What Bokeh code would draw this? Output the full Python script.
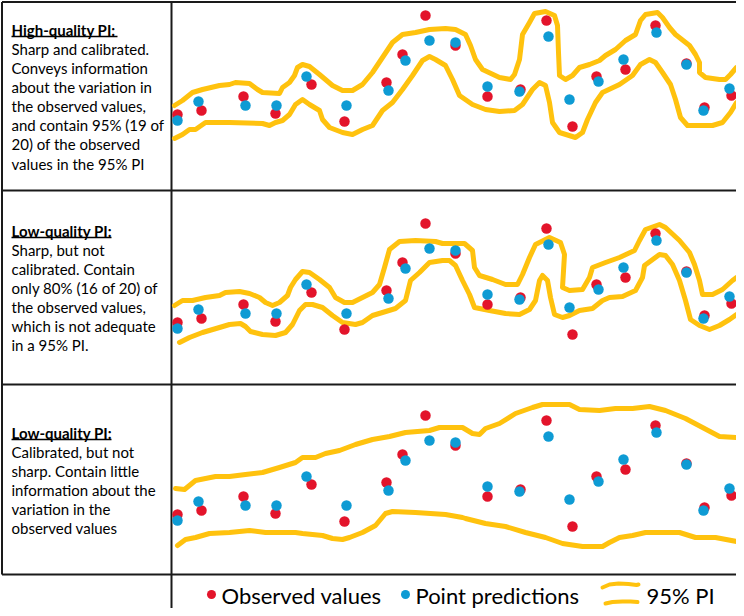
from bokeh.plotting import figure
from bokeh.models import Range1d
from bokeh.core.properties import value
from bokeh.embed import file_html
from bokeh.resources import INLINE

# ---------------- data (time index and values, same in every panel) ----------------
time_pred = [6, 27, 74, 105, 135, 175, 217, 234, 258, 284, 316, 348, 377, 398, 427, 452, 485, 515, 532, 558]
time_obs = [6, 30, 72, 104, 140, 173, 215, 231, 254, 284, 316, 349, 375, 401, 425, 454, 484, 515, 533, 560]
pred_values = [70, 89, 85, 85, 114, 85, 100, 130, 150, 148, 104, 99, 154, 91, 109, 131, 158, 126, 80, 102]
obs_values = [76, 80, 94, 77, 106, 69, 108, 136, 175, 145, 94, 101, 170, 64, 114, 121, 165, 127, 83, 95]

# Panel 1: high-quality PI
pi1_upper_t = [3, 11, 21, 31, 48, 58, 64, 78, 86, 91, 108, 111, 118, 123, 126, 131, 138, 148, 161, 171, 181, 191, 201, 211, 221, 231, 244, 258, 274, 284, 294, 299, 304, 311, 328, 339, 343, 348, 351, 358, 363, 374, 383, 386, 387, 388, 394, 401, 408, 418, 428, 434, 444, 454, 464, 469, 474, 486, 491, 498, 504, 518, 524, 528, 528, 534, 548, 554, 559, 565]
pi1_upper_v = [85, 90, 98, 101, 105, 106, 108, 107, 101, 98, 97, 103, 108, 115, 123, 126, 124, 116, 105, 100, 100, 106, 118, 133, 148, 156, 158, 161, 162, 161, 156, 145, 131, 121, 113, 111, 116, 131, 156, 168, 177, 179, 175, 165, 138, 115, 111, 115, 123, 126, 130, 135, 141, 150, 156, 170, 176, 178, 173, 163, 156, 145, 136, 128, 118, 113, 111, 111, 116, 123]
pi1_lower_t = [3, 11, 18, 24, 34, 58, 91, 98, 104, 111, 118, 124, 131, 138, 148, 151, 158, 171, 181, 191, 201, 211, 221, 231, 241, 251, 258, 264, 274, 281, 288, 301, 314, 328, 343, 351, 361, 368, 374, 378, 381, 388, 404, 411, 416, 424, 431, 448, 461, 469, 478, 484, 491, 499, 504, 509, 516, 541, 551, 559, 565]
pi1_lower_v = [52, 56, 61, 61, 68, 68, 67, 65, 68, 70, 76, 86, 91, 86, 80, 71, 63, 58, 56, 61, 65, 80, 88, 101, 115, 130, 134, 131, 125, 111, 95, 86, 81, 79, 80, 86, 101, 108, 105, 88, 68, 58, 53, 58, 71, 88, 98, 106, 115, 126, 131, 128, 118, 106, 91, 73, 65, 65, 68, 78, 88]

# Panel 2: sharp but not calibrated
pi2_upper_t = [3, 11, 21, 34, 48, 54, 68, 78, 88, 94, 101, 108, 116, 119, 124, 131, 138, 148, 158, 164, 173, 181, 191, 201, 208, 213, 218, 228, 244, 264, 271, 293, 301, 303, 308, 321, 334, 346, 351, 358, 364, 378, 389, 393, 391, 398, 411, 418, 421, 434, 448, 463, 468, 474, 488, 494, 508, 518, 523, 528, 531, 541, 551, 561, 565]
pi2_upper_v = [93, 98, 98, 101, 103, 106, 107, 105, 101, 96, 93, 96, 103, 111, 119, 127, 126, 119, 111, 101, 96, 96, 101, 106, 114, 131, 149, 157, 158, 157, 155, 155, 148, 131, 123, 119, 114, 114, 124, 141, 154, 161, 156, 144, 111, 108, 109, 121, 131, 136, 141, 148, 158, 169, 174, 171, 158, 146, 134, 118, 104, 104, 109, 118, 121]
pi2_lower_t = [8, 18, 31, 48, 58, 69, 74, 79, 91, 104, 114, 121, 128, 134, 141, 151, 161, 171, 184, 191, 201, 211, 224, 234, 239, 248, 258, 271, 278, 284, 291, 298, 303, 318, 334, 348, 358, 364, 368, 371, 376, 379, 383, 391, 398, 408, 421, 431, 438, 451, 464, 471, 473, 488, 494, 501, 508, 514, 519, 528, 538, 548, 558, 565]
pi2_lower_v = [56, 61, 66, 71, 74, 75, 72, 67, 64, 63, 66, 74, 88, 94, 94, 91, 83, 76, 74, 76, 83, 86, 90, 98, 118, 126, 136, 138, 138, 133, 118, 104, 91, 88, 85, 84, 89, 98, 118, 123, 118, 101, 84, 81, 83, 88, 90, 98, 101, 102, 108, 121, 133, 144, 143, 134, 118, 98, 79, 73, 69, 73, 79, 84]

# Panel 3: calibrated but not sharp
pi3_upper_t = [4, 13, 24, 44, 58, 74, 91, 108, 124, 131, 144, 154, 168, 184, 201, 218, 234, 258, 268, 291, 301, 308, 314, 328, 344, 361, 371, 398, 408, 428, 444, 461, 478, 494, 514, 531, 548, 565]
pi3_upper_v = [102, 101, 110, 114, 114, 116, 118, 123, 128, 133, 133, 137, 140, 146, 151, 154, 158, 160, 163, 163, 157, 156, 162, 167, 177, 183, 186, 186, 181, 180, 182, 182, 184, 180, 172, 163, 154, 153]
pi3_lower_t = [6, 14, 24, 38, 58, 78, 94, 124, 131, 151, 161, 171, 178, 191, 204, 214, 221, 244, 274, 291, 294, 314, 334, 354, 374, 391, 411, 431, 438, 448, 461, 474, 508, 524, 544, 565]
pi3_lower_v = [45, 51, 53, 57, 58, 60, 58, 58, 57, 55, 52, 51, 53, 58, 65, 77, 79, 78, 76, 73, 72, 67, 64, 58, 53, 47, 44, 44, 48, 53, 55, 58, 58, 53, 53, 49]

panel_pis = [
    (pi1_upper_t, pi1_upper_v, pi1_lower_t, pi1_lower_v),
    (pi2_upper_t, pi2_upper_v, pi2_lower_t, pi2_lower_v),
    (pi3_upper_t, pi3_upper_v, pi3_lower_t, pi3_lower_v),
]

panel_texts = [
    ("High-quality PI:", ["Sharp and calibrated.", "Conveys information", "about the variation in",
                          "the observed values,", "and contain 95% (19 of", "20) of the observed",
                          "values in the 95% PI"]),
    ("Low-quality PI:", ["Sharp, but not", "calibrated. Contain", "only 80% (16 of 20) of",
                         "the observed values,", "which is not adequate", "in a 95% PI."]),
    ("Low-quality PI:", ["Calibrated, but not", "sharp. Contain little", "information about the",
                         "variation in the", "observed values"]),
]

legend_labels = ["Observed values", "Point predictions", "95% PI"]

# ---------------- styling / layout ----------------
RED = "#E3142B"
BLUE = "#0E9BD4"
GOLD = "#FFC20E"
BORDER = "#1a1a1a"
FONT = "Lato"

W, H = 736, 608
# page layout (frame pixel coordinates, y downwards)
col_split = 171
row_edges = [1.5, 190, 384, 574]
panel_offsets = [190, 398, 590]   # frame y that corresponds to value 0 in each panel
header_y = [29, 230, 432]
underline_len = [106, 100, 100]
line_step = 19.15

p = figure(width=W, height=H, x_range=Range1d(0, W), y_range=Range1d(H, 0),
           min_border=0, toolbar_location=None, output_backend="svg",
           x_axis_type=None, y_axis_type=None)
p.outline_line_color = None
p.background_fill_color = "white"
p.border_fill_color = "white"

p.extra_x_ranges = {"t": Range1d(-col_split, W - col_split)}
for k, off in enumerate(panel_offsets):
    p.extra_y_ranges["r%d" % k] = Range1d(off - H, off)

# borders
p.segment(x0=[1.5, 1.5, col_split], y0=[1.5, 1.5, 1.5], x1=[W, 1.5, col_split], y1=[1.5, row_edges[3], H],
          line_color=BORDER, line_width=2)
p.segment(x0=[1.5] * 3, y0=row_edges[1:], x1=[W] * 3, y1=row_edges[1:], line_color=BORDER, line_width=2)

# panels
for k, (ut, uv, lt, lv) in enumerate(panel_pis):
    rn = "r%d" % k
    for tt, vv in ((ut, uv), (lt, lv)):
        p.line(tt, vv, x_range_name="t", y_range_name=rn, line_color=GOLD, line_width=5,
               line_cap="round", line_join="round")
    p.scatter(time_obs, obs_values, x_range_name="t", y_range_name=rn, size=10.5,
              fill_color=RED, line_color=None)
    p.scatter(time_pred, pred_values, x_range_name="t", y_range_name=rn, size=10.5,
              fill_color=BLUE, line_color=None)

# explanatory texts
tx = 11
for k, (head, lines) in enumerate(panel_texts):
    hy = header_y[k]
    p.text(x=[tx], y=[hy], text=[head], text_font=value(FONT), text_font_size="15px",
           text_font_style="bold", text_baseline="middle", text_color="black")
    p.segment(x0=[tx], y0=[hy + 7], x1=[tx + underline_len[k]], y1=[hy + 7], line_color="black",
              line_width=1.3)
    ys = [hy + line_step * (i + 1) for i in range(len(lines))]
    p.text(x=[tx] * len(lines), y=ys, text=lines, text_font=value(FONT), text_font_size="15px",
           text_baseline="middle", text_color="black")

# legend
ly = 595
p.scatter([211], [ly - 1], size=9, fill_color=RED, line_color=None)
p.scatter([405], [ly - 1], size=9, fill_color=BLUE, line_color=None)
p.line([602, 609, 618, 628, 636, 638], [587, 584, 583, 583.5, 584.5, 584], line_color=GOLD, line_width=4,
       line_cap="round")
p.line([605, 612, 622, 630, 637], [603, 601.5, 601, 601, 601.5], line_color=GOLD, line_width=4,
       line_cap="round")
p.text(x=[221, 415, 646], y=[ly, ly, ly], text=legend_labels, text_font=value(FONT),
       text_font_size="22px", text_baseline="middle", text_color="black")

open("out.html", "w").write(file_html(p, INLINE))
